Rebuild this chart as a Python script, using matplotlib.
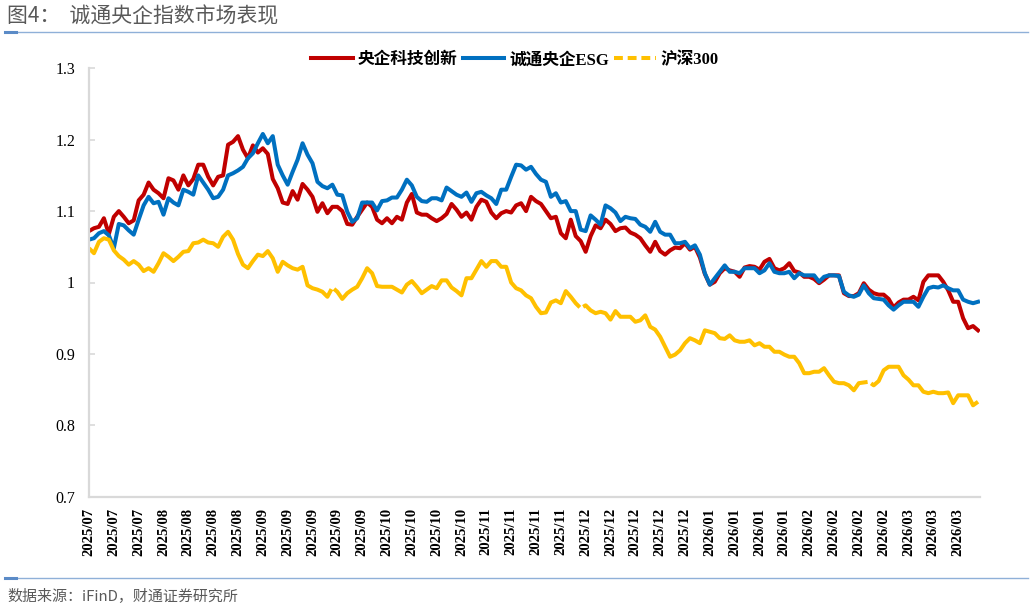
import matplotlib
matplotlib.use('Agg')
import matplotlib.pyplot as plt
from matplotlib.lines import Line2D

# 央企科技创新
tech = [1.072, 1.076, 1.078, 1.090, 1.068, 1.092, 1.100, 1.092, 1.083, 1.087,
        1.115, 1.123, 1.140, 1.130, 1.125, 1.118, 1.146, 1.143, 1.130, 1.150,
        1.136, 1.145, 1.165, 1.165, 1.148, 1.136, 1.148, 1.150, 1.193, 1.197,
        1.205, 1.186, 1.174, 1.192, 1.182, 1.188, 1.180, 1.145, 1.132, 1.112,
        1.110, 1.128, 1.116, 1.138, 1.130, 1.120, 1.099, 1.111, 1.097, 1.106,
        1.106, 1.100, 1.082, 1.081, 1.092, 1.102, 1.112, 1.106, 1.088, 1.083,
        1.090, 1.083, 1.092, 1.088, 1.112, 1.124, 1.098, 1.095, 1.095, 1.090,
        1.086, 1.090, 1.096, 1.110, 1.102, 1.092, 1.098, 1.088, 1.106, 1.116,
        1.113, 1.098, 1.090, 1.097, 1.100, 1.098, 1.108, 1.111, 1.100, 1.120,
        1.114, 1.110, 1.100, 1.090, 1.092, 1.069, 1.062, 1.088, 1.065, 1.058,
        1.043, 1.065, 1.080, 1.076, 1.088, 1.082, 1.072, 1.076, 1.077, 1.070,
        1.067, 1.062, 1.052, 1.043, 1.057, 1.044, 1.039, 1.045, 1.049, 1.048,
        1.055, 1.046, 1.050, 1.035, 1.012, 0.997, 1.001, 1.013, 1.020, 1.017,
        1.015, 1.008, 1.021, 1.023, 1.022, 1.018, 1.029, 1.033, 1.020, 1.017,
        1.020, 1.027, 1.016, 1.014, 1.008, 1.008, 1.005, 0.999, 1.004, 1.010,
        1.010, 1.010, 0.985, 0.981, 0.981, 0.985, 0.999, 0.990, 0.985, 0.983,
        0.983, 0.977, 0.965, 0.972, 0.976, 0.976, 0.980, 0.975, 1.001, 1.010,
        1.010, 1.010, 1.001, 0.989, 0.973, 0.973, 0.950, 0.936, 0.939, 0.933]

# 诚通央企ESG
esg = [1.060, 1.062, 1.069, 1.072, 1.066, 1.048, 1.082, 1.080, 1.073, 1.067,
       1.088, 1.108, 1.120, 1.111, 1.113, 1.095, 1.118, 1.112, 1.108, 1.130,
       1.127, 1.123, 1.150, 1.140, 1.130, 1.118, 1.120, 1.130, 1.150, 1.153,
       1.157, 1.162, 1.174, 1.181, 1.195, 1.208, 1.195, 1.205, 1.165, 1.150,
       1.137, 1.155, 1.172, 1.195, 1.179, 1.167, 1.141, 1.135, 1.132, 1.137,
       1.123, 1.122, 1.099, 1.085, 1.090, 1.112, 1.112, 1.112, 1.101, 1.114,
       1.115, 1.119, 1.119, 1.130, 1.144, 1.136, 1.120, 1.114, 1.113, 1.118,
       1.118, 1.115, 1.133, 1.128, 1.123, 1.120, 1.126, 1.113, 1.125, 1.127,
       1.122, 1.118, 1.110, 1.130, 1.130, 1.148, 1.165, 1.164, 1.158, 1.162,
       1.152, 1.144, 1.141, 1.120, 1.125, 1.112, 1.114, 1.100, 1.100, 1.074,
       1.072, 1.094, 1.088, 1.081, 1.108, 1.104, 1.098, 1.086, 1.092, 1.090,
       1.089, 1.081, 1.078, 1.071, 1.085, 1.071, 1.067, 1.067, 1.055, 1.055,
       1.057, 1.048, 1.052, 1.039, 1.013, 0.997, 1.006, 1.015, 1.024, 1.015,
       1.015, 1.013, 1.020, 1.020, 1.020, 1.013, 1.017, 1.027, 1.015, 1.013,
       1.013, 1.015, 1.006, 1.013, 1.010, 1.010, 1.010, 1.001, 1.008, 1.010,
       1.010, 1.009, 0.987, 0.982, 0.980, 0.983, 0.996, 0.985, 0.978, 0.977,
       0.976, 0.968, 0.962, 0.968, 0.973, 0.973, 0.973, 0.966, 0.980, 0.992,
       0.994, 0.993, 0.996, 0.992, 0.989, 0.989, 0.976, 0.973, 0.971, 0.973]

# 沪深300
hs300 = [1.048, 1.041, 1.057, 1.062, 1.060, 1.045, 1.037, 1.032, 1.025, 1.030,
         1.025, 1.016, 1.020, 1.015, 1.027, 1.041, 1.036, 1.030, 1.036, 1.043,
         1.044, 1.055, 1.056, 1.060, 1.056, 1.055, 1.050, 1.064, 1.071, 1.060,
         1.040, 1.025, 1.020, 1.030, 1.039, 1.037, 1.044, 1.034, 1.015, 1.029,
         1.024, 1.020, 1.018, 1.022, 0.996, 0.992, 0.990, 0.987, 0.980, 0.993,
         0.987, 0.977, 0.985, 0.990, 0.994, 1.006, 1.020, 1.013, 0.995, 0.994,
         0.994, 0.994, 0.990, 0.986, 0.997, 1.002, 0.994, 0.985, 0.990, 0.995,
         0.992, 1.003, 1.003, 0.993, 0.988, 0.982, 1.006, 1.006, 1.018, 1.030,
         1.022, 1.030, 1.030, 1.022, 1.022, 1.000, 0.992, 0.989, 0.982, 0.978,
         0.966, 0.957, 0.958, 0.972, 0.975, 0.971, 0.988, 0.980, 0.971, 0.964,
         0.968, 0.961, 0.957, 0.959, 0.957, 0.948, 0.960, 0.952, 0.952, 0.952,
         0.945, 0.947, 0.954, 0.938, 0.934, 0.924, 0.910, 0.896, 0.899, 0.905,
         0.915, 0.922, 0.919, 0.915, 0.933, 0.931, 0.929, 0.922, 0.921, 0.926,
         0.919, 0.917, 0.917, 0.919, 0.912, 0.915, 0.910, 0.910, 0.903, 0.903,
         0.899, 0.896, 0.896, 0.887, 0.873, 0.873, 0.875, 0.875, 0.880, 0.870,
         0.861, 0.859, 0.859, 0.856, 0.849, 0.859, 0.860, 0.861, 0.856, 0.862,
         0.877, 0.882, 0.882, 0.882, 0.870, 0.864, 0.856, 0.856, 0.847, 0.845,
         0.847, 0.845, 0.845, 0.846, 0.831, 0.842, 0.842, 0.842, 0.828, 0.833]

# x tick labels, one every 5 trading days
tick_labels = ['2025/07', '2025/07', '2025/07',
               '2025/08', '2025/08', '2025/08', '2025/08',
               '2025/09', '2025/09', '2025/09', '2025/09', '2025/09',
               '2025/10', '2025/10', '2025/10', '2025/10',
               '2025/11', '2025/11', '2025/11', '2025/11',
               '2025/12', '2025/12', '2025/12', '2025/12', '2025/12',
               '2026/01', '2026/01', '2026/01', '2026/01',
               '2026/02', '2026/02', '2026/02', '2026/02',
               '2026/03', '2026/03', '2026/03']
y_ticks = [0.7, 0.8, 0.9, 1.0, 1.1, 1.2, 1.3]
y_labels = ['0.7', '0.8', '0.9', '1', '1.1', '1.2', '1.3']

series_names = ['央企科技创新', '诚通央企ESG', '沪深300']
RED, BLUE, GOLD = '#C00000', '#0070C0', '#FFC000'
GRAY = '#595959'
cjk = ['Noto Sans CJK SC', 'DejaVu Sans']
serif_cjk = ['Liberation Serif', 'Noto Sans CJK SC']

fig = plt.figure(figsize=(10.32, 6.08), dpi=100)
ax = fig.add_axes([89 / 1032, 1 - 496.7 / 608, (980 - 89) / 1032, (496.7 - 68.3) / 608])

x = list(range(len(tech)))
lw = 2.9
ax.plot(x, tech, color=RED, lw=lw, solid_joinstyle='round')
ax.plot(x, esg, color=BLUE, lw=lw, solid_joinstyle='round')
ax.plot(x, hs300, color=GOLD, lw=lw, dashes=(95, 1.0), dash_joinstyle='round')

ax.set_xlim(0, len(tech) - 0.6)
ax.set_ylim(0.7, 1.3)
ax.set_yticks(y_ticks)
ax.set_yticklabels(y_labels, family='Liberation Serif', fontsize=11.5)
ax.set_xticks(x[::5][:len(tick_labels)])
ax.set_xticklabels(tick_labels, rotation=90, family='Liberation Serif',
                   fontsize=10.5, fontweight='bold')

for s in ['top', 'right']:
    ax.spines[s].set_visible(False)
for s in ['left', 'bottom']:
    ax.spines[s].set_color('#d9d9d9')
    ax.spines[s].set_linewidth(1.6)
ax.tick_params(axis='y', direction='in', length=4, color='#d9d9d9', width=1.2, pad=10)
ax.tick_params(axis='x', length=0, pad=8)

handles = [Line2D([], [], color=RED, lw=lw),
           Line2D([], [], color=BLUE, lw=lw),
           Line2D([], [], color=GOLD, lw=lw, dashes=(2.2, 1.2))]
fig.legend(handles, series_names, loc='center', bbox_to_anchor=(515 / 1032, 1 - 60 / 608),
           ncol=3, frameon=False, handlelength=2.5, handletextpad=0.3, columnspacing=0.3,
           prop={'family': serif_cjk, 'weight': 'bold', 'size': 12})

# header / footer
fig.text(7 / 1032, 1 - 16 / 608, '图4：  诚通央企指数市场表现', family=cjk, fontsize=15,
         color=GRAY, va='center', ha='left')
fig.text(7 / 1032, 1 - 596 / 608, '数据来源：iFinD，财通证券研究所', family=cjk, fontsize=10.8,
         color=GRAY, va='center', ha='left')
for yy in [31.5, 578]:
    fig.add_artist(Line2D([5 / 1032, 1028 / 1032], [1 - yy / 608] * 2, color='#8fb0d8',
                          lw=1.0, transform=fig.transFigure))
    fig.add_artist(Line2D([5 / 1032, 16 / 1032], [1 - yy / 608] * 2, color='#5b8bc7',
                          lw=2.2, transform=fig.transFigure))

fig.savefig('out.png', dpi=100)
